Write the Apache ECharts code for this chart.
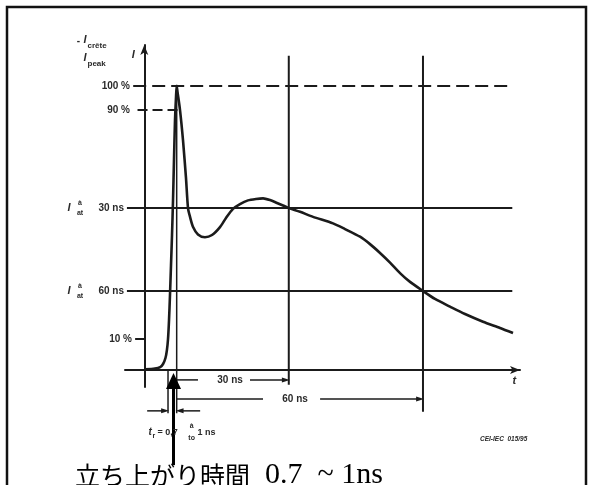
<!DOCTYPE html>
<html><head><meta charset="utf-8">
<script src="https://cdn.jsdelivr.net/npm/echarts@6/dist/echarts.min.js"></script>
<style>html,body{margin:0;padding:0;background:#fff}#c{width:593px;height:485px}</style>
</head><body><div id="c"></div>
<script>
// ---- data (drawing units: time ~ ns, current in % of peak; schematic, not to scale) ----
const curveTime = [0.15,2.2,3.3,3.9,4.4,4.7,4.93,5.14,5.34,5.55,5.76,5.97,6.17,6.38,6.59,6.73,6.9,7.42,8.04,8.66,9.08,9.5,10.13,11.15,12.6,14.06,15.72,16.97,18.42,19.87,21.53,23.19,24.65,26.1,27.55,28.8,30.04,32.33,35.03,39.18,41.67,44.79,46.86,48.94,51.02,53.09,55.17,57.86,60.35,63.47,66.58,70.32,73.85,76.55];
const curveCurrent = [0.2,0.5,1.0,2.1,4.2,7.0,10.9,17.6,26.4,36.9,47.5,59.8,73.9,87.9,96.1,100,97.9,91.5,80.9,67.6,57.0,53.9,50.3,47.7,46.7,47.5,50.3,53.5,56.7,58.4,59.7,60.2,60.4,59.8,58.8,57.9,57.0,55.7,53.9,51.6,49.6,46.9,44.3,41.2,37.8,34.1,31.0,27.8,25.0,22.3,19.7,17.0,14.8,13.0];
const levelLabels = ['100 %','90 %','30 ns','60 ns','10 %'];
const levelValues = [100, 91.5, 57, 27.8, 10.9];
const markTimes = [30, 57.86];          // vertical reference lines (30 ns, 60 ns)
const peakTime = 6.73, tenPctTime = 4.93, ninetyPctTime = 7.42;
const spanLabels = ['30 ns','60 ns'];
const riseText = 't', riseNote = '= 0,7', riseUnit = '1 ns';
const noteText = '立ち上がり時間', noteValue = '0.7  ~ 1ns';
const figRef = 'CEI-IEC  015/95';

// ---- chart ----
const chart = echarts.init(document.getElementById('c'), null, {renderer:'canvas'});
const INK = '#1b1b1b';
function seg(pts, extra) {
  return Object.assign({type:'line', data: pts, symbol:'none', showSymbol:true, clip:false, silent:true,
    animation:false, itemStyle:{color:INK}, lineStyle:{color:INK, width:2}, z:3}, extra || {});
}
function arrowPt(p, rot, size) { return {value:p, symbol:'triangle', symbolRotate:rot, symbolSize:size || [5,8]}; }

const refL = -3.6, refR = 76.4;
const yTop = 110.6;
const dimY1 = -3.5, dimY2 = -10.2, dimY3 = -14.4, extBottom = -15.2;

const series = [
  seg(curveTime.map((t,i)=>[t, curveCurrent[i]]), {smooth:0.25, lineStyle:{color:INK, width:2.6}, z:5}),
  seg([[-2.3, levelValues[0]],[refR, levelValues[0]]], {lineStyle:{color:INK, width:2, type:[13,6]}}),
  seg([[-1.4, levelValues[1]],[ninetyPctTime, levelValues[1]]], {lineStyle:{color:INK, width:2, type:[10,5]}}),
  seg([[refL, levelValues[2]],[refR, levelValues[2]]]),
  seg([[refL, levelValues[3]],[refR, levelValues[3]]]),
  seg([[-1.9, levelValues[4]],[0, levelValues[4]]]),
  seg([[markTimes[0], yTop],[markTimes[0], -5.2]]),
  seg([[markTimes[1], yTop],[markTimes[1], extBottom+0.5]]),
  seg([[tenPctTime, 0],[tenPctTime, extBottom]], {lineStyle:{color:INK, width:1.5}}),
  seg([[peakTime, levelValues[0]],[peakTime, extBottom]], {lineStyle:{color:INK, width:1.5}}),
  // 30 ns dimension
  seg([[peakTime, dimY1],[11.15, dimY1]], {lineStyle:{color:INK, width:1.5}}),
  seg([[21.95, dimY1], arrowPt([markTimes[0]-0.6, dimY1], -90)], {lineStyle:{color:INK, width:1.5}}),
  // 60 ns dimension
  seg([[peakTime, dimY2],[24.65, dimY2]], {lineStyle:{color:INK, width:1.5}}),
  seg([[36.5, dimY2], arrowPt([markTimes[1]-0.6, dimY2], -90)], {lineStyle:{color:INK, width:1.5}}),
  // rise-time dimension
  seg([[0.6, dimY3], arrowPt([tenPctTime-0.6, dimY3], -90)], {lineStyle:{color:INK, width:1.5}}),
  seg([[11.6, dimY3], arrowPt([peakTime+0.6, dimY3], 90)], {lineStyle:{color:INK, width:1.5}}),
  // annotation arrow (pointing up to the rise)
  seg([[6.07, -33.5], arrowPt([6.07, -3.9], 0, [15,16])], {lineStyle:{color:'#000', width:3}, itemStyle:{color:'#000'}, z:6})
];

chart.setOption({
  animation:false,
  grid:{left:125, right:73, top:45, bottom:98},
  xAxis:{type:'value', min:-4, max:78, splitLine:{show:false}, axisLabel:{show:false}, axisTick:{show:false},
    axisLine:{show:true, onZero:true, symbol:['none','arrow'], symbolSize:[6,10], lineStyle:{color:INK, width:2}}},
  yAxis:{type:'value', min:-6, max:114.4, splitLine:{show:false}, axisLabel:{show:false}, axisTick:{show:false},
    axisLine:{show:true, onZero:true, symbol:['none','arrow'], symbolSize:[6,10], lineStyle:{color:INK, width:2}}},
  series: series
});

// ---- text annotations positioned from data coordinates ----
const px = p => chart.convertToPixel({gridIndex:0}, p);
const F = 'bold 10px "Liberation Sans", Arial, sans-serif';
const FS = 'bold 7px "Liberation Sans", Arial, sans-serif';
const FI = 'italic bold 11px "Liberation Sans", Arial, sans-serif';
const TXT = '#2a2a2a';
const g = [];
function T(x, y, text, font, align, extra) {
  g.push({type:'text', x:x, y:y, silent:true, z:10, style:Object.assign({text:text, font:font, fill:TXT, align:align||'left', verticalAlign:'middle'}, extra||{})});
}
// frame
g.push({type:'rect', shape:{x:7, y:7, width:579, height:500}, style:{fill:'none', stroke:'#111', lineWidth:2.5}, silent:true, z:1});

const yL = levelValues.map(v => px([0, v])[1]);
T(130, yL[0], levelLabels[0], F, 'right');
T(130, yL[1], levelLabels[1], F, 'right');
[2,3].forEach(i => {
  T(124, yL[i], levelLabels[i], F, 'right');
  T(80, yL[i]-4.5, 'à', FS, 'center');
  T(80, yL[i]+5, 'at', FS, 'center');
  T(69, yL[i], 'I', FI, 'center');
});
T(132, yL[4], levelLabels[4], F, 'right');
// y-axis titles
const ax = px([0, yTop]);
T(ax[0]-11, ax[1]-0.5, 'I', FI, 'center');
T(80, 41, '-', F, 'right');
T(85, 40, 'I', FI, 'center');
T(87.5, 46, 'crête', 'bold 8px "Liberation Sans", Arial, sans-serif', 'left');
T(85, 58, 'I', FI, 'center');
T(87.5, 63.5, 'peak', 'bold 8px "Liberation Sans", Arial, sans-serif', 'left');
// x-axis title
const xe = px([76.8, 0]);
T(xe[0], xe[1]+11, 't', FI, 'center');
// span labels
const s1 = px([17.8, dimY1]), s2 = px([31.3, dimY2]);
T(s1[0], s1[1], spanLabels[0], F, 'center');
T(s2[0], s2[1], spanLabels[1], F, 'center');
// rise time note
const rr = px([0.9, -21.9]);
T(rr[0], rr[1], riseText, 'italic bold 10px "Liberation Sans", Arial, sans-serif', 'left');
T(rr[0]+4, rr[1]+3.5, 'r', FS, 'left');
T(rr[0]+9, rr[1], riseNote, 'bold 9px "Liberation Sans", Arial, sans-serif', 'left');
T(rr[0]+43, rr[1]-6, 'à', FS, 'center');
T(rr[0]+43, rr[1]+6, 'to', FS, 'center');
T(rr[0]+49, rr[1], riseUnit, 'bold 9px "Liberation Sans", Arial, sans-serif', 'left');
// figure reference
T(480, 439, figRef, 'italic bold 6.5px "Liberation Sans", Arial, sans-serif', 'left');
// big Japanese note
g.push({type:'text', x:75, y:460, silent:true, z:10, style:{
  text:'{a|' + noteText + '}{b|  ' + noteValue + '}',
  verticalAlign:'top', align:'left',
  rich:{
    a:{font:'25px "Noto Sans CJK JP", sans-serif', fill:'#000'},
    b:{font:'30px "Liberation Serif", "DejaVu Serif", serif', fill:'#000'}
  }}});

chart.setOption({graphic: g});
</script>
</body></html>
